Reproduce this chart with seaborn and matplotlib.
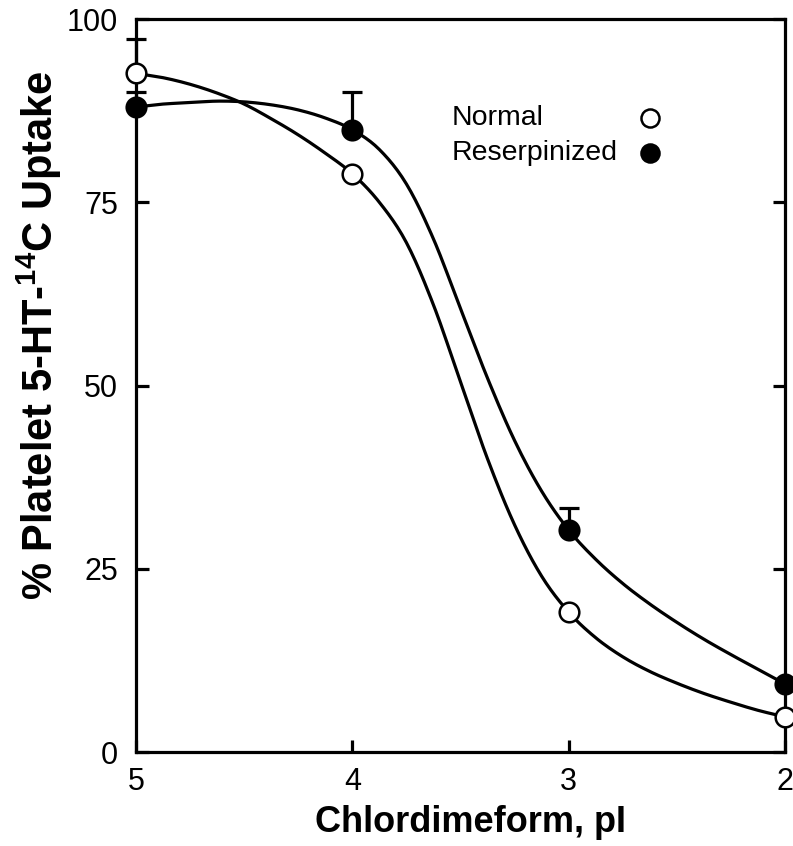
import numpy as np
import pandas as pd
import matplotlib
matplotlib.use("Agg")
import matplotlib.pyplot as plt
import seaborn as sns

# ---- data ----
pI = [5, 4, 3, 2]
normal = [92.6, 78.9, 19.1, 4.8]
reserp = [88.0, 84.9, 30.3, 9.3]
normal_err = [4.7, 0, 0, 0]
reserp_err = [2.0, 5.1, 3.0, 0]

# fitted curves (every 0.125 pI)
curve_x = [5.0, 4.875, 4.75, 4.625, 4.5, 4.375, 4.25, 4.125, 4.0,
           3.875, 3.75, 3.625, 3.5, 3.375, 3.25, 3.125, 3.0,
           2.875, 2.75, 2.625, 2.5, 2.375, 2.25, 2.125, 2.0]
normal_curve_y = [92.6, 92.0, 91.1, 89.9, 88.4, 86.4, 84.2, 81.7, 78.9,
                  75.0, 69.5, 61.0, 50.5, 40.0, 31.0, 24.0, 19.1,
                  15.6, 13.0, 11.0, 9.4, 8.0, 6.8, 5.7, 4.8]
reserp_curve_y = [88.0, 88.4, 88.6, 88.8, 88.7, 88.3, 87.6, 86.5, 84.9,
                  82.2, 77.5, 70.0, 60.5, 51.0, 42.5, 35.6, 30.3,
                  26.3, 23.0, 20.2, 17.7, 15.4, 13.3, 11.3, 9.3]

x_ticks = [5, 4, 3, 2]
y_ticks = [0, 25, 50, 75, 100]
labels = ["Normal", "Reserpinized"]


def smooth(xs, ys, n=12):
    """Catmull-Rom rendering of a traced curve (drawing only)."""
    P = np.column_stack([xs, ys]).astype(float)
    P = np.vstack([P[0] * 2 - P[1], P, P[-1] * 2 - P[-2]])
    out = []
    t = np.linspace(0, 1, n, endpoint=False)[:, None]
    for i in range(1, len(P) - 2):
        p0, p1, p2, p3 = P[i - 1], P[i], P[i + 1], P[i + 2]
        seg = 0.5 * ((2 * p1) + (-p0 + p2) * t + (2 * p0 - 5 * p1 + 4 * p2 - p3) * t ** 2
                     + (-p0 + 3 * p1 - 3 * p2 + p3) * t ** 3)
        out.append(seg)
    out.append(P[-2][None, :])
    out = np.vstack(out)
    return out[:, 0], out[:, 1]


sns.set_style("ticks")
plt.rcParams["font.family"] = ["Liberation Sans", "DejaVu Sans"]
plt.rcParams["mathtext.fontset"] = "custom"
plt.rcParams["mathtext.rm"] = "Liberation Sans:bold"
plt.rcParams["mathtext.bf"] = "Liberation Sans:bold"
for k in ["text.color", "axes.labelcolor", "xtick.color", "ytick.color", "axes.edgecolor"]:
    plt.rcParams[k] = "black"

fig = plt.figure(figsize=(7.93, 8.46), dpi=100)
ax = fig.add_axes([0.1715, 0.111, 0.8184, 0.8665])

lw = 2.3
for cy in [normal_curve_y, reserp_curve_y]:
    sx, sy = smooth(curve_x, cy)
    df = pd.DataFrame({"x": sx, "y": sy})
    sns.lineplot(data=df, x="x", y="y", ax=ax, color="black", linewidth=lw,
                 estimator=None, sort=False, zorder=2)

# error bars (upward only)
for vals, errs in [(normal, normal_err), (reserp, reserp_err)]:
    v = np.array(vals); e = np.array(errs); xx = np.array(pI)
    m = e > 0
    ax.errorbar(xx[m], v[m], yerr=[np.zeros(m.sum()), e[m]], fmt="none",
                ecolor="black", elinewidth=lw, capsize=7.5, capthick=lw,
                zorder=3, clip_on=False)

pts = pd.DataFrame({"pI": pI * 2, "val": normal + reserp,
                    "group": [labels[0]] * 4 + [labels[1]] * 4})
sns.scatterplot(data=pts[pts.group == labels[0]], x="pI", y="val", ax=ax,
                marker="o", s=200, facecolor="white", edgecolor="black",
                linewidth=1.8, zorder=4, clip_on=False, legend=False)
sns.scatterplot(data=pts[pts.group == labels[1]], x="pI", y="val", ax=ax,
                marker="o", s=200, color="black", edgecolor="black",
                linewidth=1.8, zorder=4, clip_on=False, legend=False)

# legend (text left, marker right)
ax.text(0.487, 0.865, labels[0], transform=ax.transAxes, fontsize=20.5,
        va="center", ha="left")
ax.text(0.487, 0.817, labels[1], transform=ax.transAxes, fontsize=20.5,
        va="center", ha="left")
ax.plot([0.792], [0.865], "o", transform=ax.transAxes, ms=13, mfc="white",
        mec="black", mew=1.8)
ax.plot([0.792], [0.817], "o", transform=ax.transAxes, ms=13, mfc="black",
        mec="black", mew=1.8)

ax.set_xlim(5, 2)
ax.set_ylim(0, 100)
ax.set_xticks(x_ticks)
ax.set_xticklabels([str(t) for t in x_ticks])
ax.set_yticks(y_ticks)
ax.set_yticklabels([str(t) for t in y_ticks])

for s in ax.spines.values():
    s.set_linewidth(2.3)
    s.set_color("black")

ax.tick_params(axis="both", direction="in", length=9, width=2.3, labelsize=22,
               colors="black", pad=11)
ax.tick_params(axis="y", right=True, left=True, pad=13)
ax.tick_params(axis="x", top=False, bottom=True)

ax.set_xlabel("Chlordimeform, pI", fontsize=26, fontweight="bold")
ax.set_ylabel(r"% Platelet 5-HT-$^{\mathbf{14}}$C Uptake", fontsize=30,
              fontweight="bold")
ax.xaxis.set_label_coords(0.515, -0.072)
ax.yaxis.set_label_coords(-0.111, 0.569)

fig.savefig("out.png", dpi=100)
